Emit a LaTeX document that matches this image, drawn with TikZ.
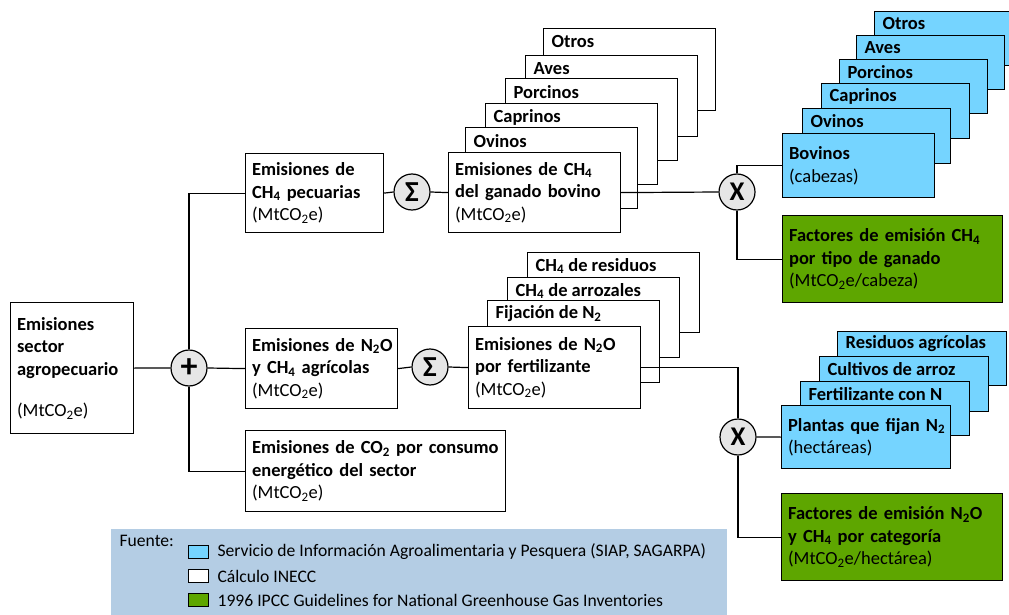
\documentclass[tikz,border=0pt]{standalone}
\usepackage{fontspec}
\setmainfont{Carlito}
\definecolor{skyfill}{HTML}{75D4FF}
\definecolor{leaf}{HTML}{5EA600}
\definecolor{legendbg}{HTML}{B4CDE4}
\definecolor{opfill}{HTML}{E6E6E6}
\newcommand{\boxfont}{\fontsize{18.5}{22.5}\selectfont}
\newcommand{\legfont}{\fontsize{17.6}{24}\selectfont}
% one unbreakable line of box text, bold or regular
\newcommand{\boldline}[1]{\mbox{\textbf{#1}}}
\newcommand{\plainline}[1]{\mbox{#1}}
\newcommand{\coe}{MtCO\textsubscript{2}e}
\begin{document}
\begin{tikzpicture}[x=1pt,y=-1pt,
  line width=1.2pt,
  sized/.code 2 args={\pgfmathsetmacro\bxw{#1-13}%
    \tikzset{minimum width=#1pt, minimum height=#2pt, text width=\bxw pt}},
  box/.style={draw, fill=white, anchor=north west, inner xsep=6.5pt, inner ysep=0pt,
    align=left, font=\boxfont},
  skybox/.style={box, fill=skyfill},
  leafbox/.style={box, fill=leaf},
  backbox/.style={draw, fill=white, anchor=north west, inner sep=0pt},
  tag/.style={anchor=west, inner sep=0pt, font=\boxfont\bfseries},
  op/.style={circle, draw, fill=opfill, minimum size=36pt, inner sep=0pt,
    font=\fontsize{27}{27}\selectfont\bfseries},
  link/.style={draw, line width=1.2pt},
  swatch/.style={draw, line width=0.9pt, minimum width=20pt, minimum height=13pt, inner sep=0pt},
  legtext/.style={anchor=west, inner sep=0pt, font=\legfont}
]
\useasboundingbox (0,0) rectangle (1009,615);

% legend panel
\fill[legendbg] (111,529) rectangle (727,615);
\node[legtext] (fuente) at (119,541) {Fuente:};
\node[swatch, fill=skyfill] (sw1) at (198.5,552) {};
\node[swatch, fill=white] (sw2) at (198.5,576) {};
\node[swatch, fill=leaf] (sw3) at (198.5,600) {};
\node[legtext] (lg1) at (217,552) {Servicio de Información Agroalimentaria y Pesquera (SIAP, SAGARPA)};
\node[legtext] (lg2) at (217,576) {Cálculo INECC};
\node[legtext] (lg3) at (217,600) {1996 IPCC Guidelines for National Greenhouse Gas Inventories};

% sector total and its three components
\node[box, sized={123}{131}] (sector) at (10,302)
  {\boldline{Emisiones}\\ \boldline{sector}\\ \boldline{agropecuario}\\[19pt] \plainline{(\coe)}};
\node[op, font=\fontsize{34}{34}\selectfont\bfseries] (plus) at (189,368) {+};
\node[box, sized={138}{79}] (pec) at (245,153)
  {\boldline{Emisiones de}\\ \boldline{CH\textsubscript{4} pecuarias}\\ \plainline{(\coe)}};
\node[box, sized={152}{80}] (agr) at (245,328)
  {\boldline{Emisiones de N\textsubscript{2}O}\\ \boldline{y CH\textsubscript{4} agrícolas}\\ \plainline{(\coe)}};
\node[box, sized={260}{81}] (ener) at (245,430)
  {\boldline{Emisiones de CO\textsubscript{2} por consumo}\\ \boldline{energético del sector}\\ \plainline{(\coe)}};

\node[op, font=\fontsize{29}{29}\selectfont\bfseries] (sum1) at (412,192) {Σ};
\node[op, font=\fontsize{29}{29}\selectfont\bfseries] (sum2) at (430,367) {Σ};

% livestock stack
\node[backbox, minimum width=172pt, minimum height=82pt] (b5) at (543,28) {};
\node[tag] at ([shift={(8,14)}]b5.north west) {Otros};
\node[backbox, minimum width=172pt, minimum height=81pt] (b4) at (525,55) {};
\node[tag] at ([shift={(8,14)}]b4.north west) {Aves};
\node[backbox, minimum width=172pt, minimum height=82pt] (b3) at (505,78) {};
\node[tag] at ([shift={(8,14)}]b3.north west) {Porcinos};
\node[backbox, minimum width=172pt, minimum height=81pt] (b2) at (485,103) {};
\node[tag] at ([shift={(8,14)}]b2.north west) {Caprinos};
\node[backbox, minimum width=172pt, minimum height=81pt] (b1) at (465,127) {};
\node[tag] at ([shift={(8,14)}]b1.north west) {Ovinos};
\node[box, sized={172}{80}] (bov) at (448,152)
  {\boldline{Emisiones de CH\textsubscript{4}}\\ \boldline{del ganado bovino}\\ \plainline{(\coe)}};

% crop stack
\node[backbox, minimum width=172pt, minimum height=80pt] (f3) at (527,252) {};
\node[tag] at ([shift={(8,14)}]f3.north west) {CH\textsubscript{4} de residuos};
\node[backbox, minimum width=172pt, minimum height=80pt] (f2) at (507,277) {};
\node[tag] at ([shift={(8,14)}]f2.north west) {CH\textsubscript{4} de arrozales};
\node[backbox, minimum width=172pt, minimum height=82pt] (f1) at (487,300) {};
\node[tag] at ([shift={(8,14)}]f1.north west) {Fijación de N\textsubscript{2}};
\node[box, sized={172}{82}] (fert) at (468,326)
  {\boldline{Emisiones de N\textsubscript{2}O}\\ \boldline{por fertilizante}\\ \plainline{(\coe)}};

% multiplication nodes
\node[op] (mul1) at (737,192) {X};
\node[op] (mul2) at (738,437) {X};

% head counts by livestock type
\node[backbox, fill=skyfill, minimum width=148pt, minimum height=54pt] (c5) at (874,11) {};
\node[tag] at ([shift={(8,13)}]c5.north west) {Otros};
\node[backbox, fill=skyfill, minimum width=148pt, minimum height=54pt] (c4) at (856,35) {};
\node[tag] at ([shift={(8,13)}]c4.north west) {Aves};
\node[backbox, fill=skyfill, minimum width=148pt, minimum height=54pt] (c3) at (839,59) {};
\node[tag] at ([shift={(8,13)}]c3.north west) {Porcinos};
\node[backbox, fill=skyfill, minimum width=148pt, minimum height=55pt] (c2) at (821,83) {};
\node[tag] at ([shift={(8,13)}]c2.north west) {Caprinos};
\node[backbox, fill=skyfill, minimum width=148pt, minimum height=55pt] (c1) at (802,108) {};
\node[tag] at ([shift={(8,13)}]c1.north west) {Ovinos};
\node[skybox, sized={152}{64}] (heads) at (782,133)
  {\boldline{Bovinos}\\ \plainline{(cabezas)}};
\node[leafbox, sized={220}{87}] (ef1) at (782,215)
  {\boldline{Factores de emisión CH\textsubscript{4}}\\ \boldline{por tipo de ganado}\\ \plainline{(\coe/cabeza)}};

% areas by crop category
\node[backbox, fill=skyfill, minimum width=169pt, minimum height=54pt] (d3) at (837,331) {};
\node[tag] at ([shift={(8,13)}]d3.north west) {Residuos agrícolas};
\node[backbox, fill=skyfill, minimum width=169pt, minimum height=55pt] (d2) at (819,356) {};
\node[tag] at ([shift={(8,13)}]d2.north west) {Cultivos de arroz};
\node[backbox, fill=skyfill, minimum width=169pt, minimum height=54pt] (d1) at (800,381) {};
\node[tag] at ([shift={(8,13)}]d1.north west) {Fertilizante con N};
\node[skybox, sized={169}{63}] (area) at (781,405)
  {\boldline{Plantas que fijan N\textsubscript{2}}\\ \plainline{(hectáreas)}};
\node[leafbox, sized={221}{87}] (ef2) at (781,493)
  {\boldline{Factores de emisión N\textsubscript{2}O}\\ \boldline{y CH\textsubscript{4} por categoría}\\ \plainline{(\coe/hectárea)}};

% connectors
\path[link] (sector.east) -- (plus.west);
\path[link] (plus.north) |- (pec.west);
\path[link] (plus.east) -- (agr.west);
\path[link] (plus.south) |- (ener.west);
\path[link] (pec.east) -- (sum1.west);
\path[link] (sum1.east) -- (bov.west);
\path[link] (agr.east) -- (sum2.west);
\path[link] (sum2.east) -- (fert.west);
\path[link] (bov.east) -- (mul1.west);
\path[link] (mul1.north) |- (heads.west);
\path[link] (mul1.south) |- (ef1.west);
\path[link] (fert.east) -| (mul2.north);
\path[link] (mul2.east) -- (area.west);
\path[link] (mul2.south) |- (ef2.west);
\end{tikzpicture}
\end{document}
